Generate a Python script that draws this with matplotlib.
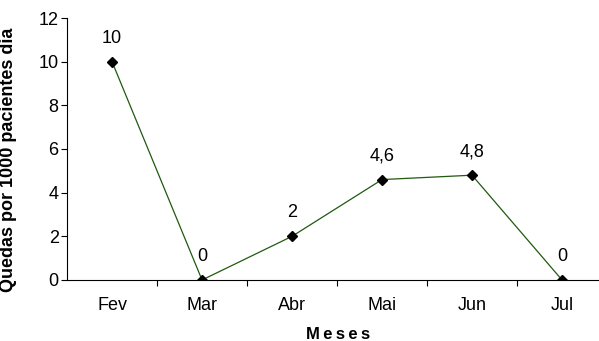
import matplotlib.pyplot as plt
import numpy as np

# Quedas por 1000 pacientes-dia, por mês
meses = ["Fev", "Mar", "Abr", "Mai", "Jun", "Jul"]
quedas = [10, 0, 2, 4.6, 4.8, 0]
rotulos = ["10", "0", "2", "4,6", "4,8", "0"]

plt.rcParams['font.family'] = ['Liberation Sans', 'DejaVu Sans']

fig = plt.figure(figsize=(5.99, 3.41), dpi=100)
ax = fig.add_axes([0.1119, 0.1789, 0.9015, 0.7683])

x = np.arange(len(meses))
ax.plot(x, quedas, color="#1f5a0f", linewidth=0.9,
        marker="D", markersize=5, markerfacecolor="black", markeredgecolor="black")

# valores acima de cada ponto
for xi, v, r in zip(x, quedas, rotulos):
    ax.annotate(r, (xi, v), xytext=(0, 17), textcoords="offset points",
                ha="center", va="center", fontsize=13)

ax.set_xlim(-0.5, len(meses) - 0.5)
ax.set_ylim(0, 12)
ax.set_yticks(range(0, 13, 2))

# rótulos no centro da categoria, marcas entre categorias
ax.set_xticks(x)
ax.set_xticklabels(meses, fontsize=13)
ax.set_xticks(np.arange(0.5, len(meses) - 0.5, 1), minor=True)
ax.tick_params(axis="x", which="major", length=0, pad=12)
ax.tick_params(axis="x", which="minor", length=4, direction="out", width=0.8)
ax.tick_params(axis="y", length=4, width=0.8, labelsize=13, pad=2)

ax.spines["top"].set_visible(False)
ax.spines["right"].set_visible(False)

ax.set_ylabel("Quedas por 1000 pacientes dia", fontsize=13, fontweight="bold")
ax.set_xlabel("M\u2009e\u2009s\u2009e\u2009s", fontsize=12, fontweight="bold")
ax.yaxis.set_label_coords(-0.093, 0.458)
ax.xaxis.set_label_coords(0.502, -0.18)

fig.savefig("out.png", dpi=100)
